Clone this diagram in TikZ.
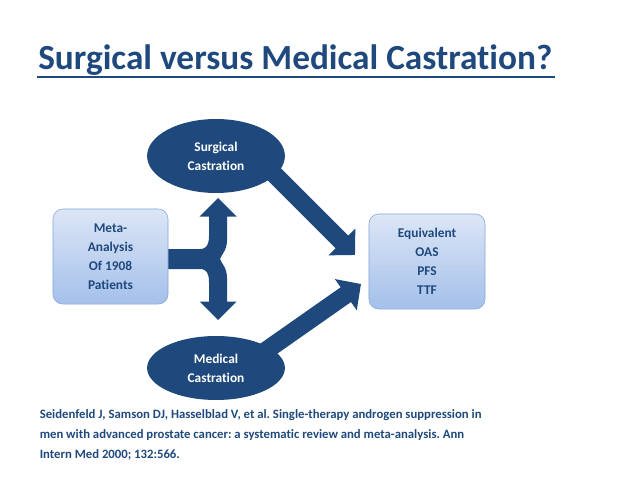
\documentclass[tikz,border=0pt]{standalone}
\usepackage{fontspec}
\setmainfont{Carlito}[Ligatures=NoCommon]
\usepackage{tikz}
\usetikzlibrary{positioning,arrows.meta,shapes,calc}
\frenchspacing
\definecolor{palNavy}{HTML}{1F497D}
\definecolor{palBoxTop}{HTML}{DCE6F6}
\definecolor{palBoxBot}{HTML}{A4C0EA}
\definecolor{palBoxEdge}{HTML}{86A6D8}
\tikzset{
  titletext/.style={font=\fontsize{25.1}{29}\selectfont\bfseries, text=palNavy,
                    inner sep=0pt},
  titleline/.style={draw=palNavy, line width=1.3pt},
  ovalnode/.style={ellipse, fill=palNavy, text=white, inner sep=0pt,
                   minimum width=98pt, align=center,
                   font=\fontsize{9.5}{13.6}\selectfont\bfseries},
  infobox/.style={draw=palBoxEdge, rounded corners=7pt, top color=palBoxTop,
                  bottom color=palBoxBot, text=palNavy, align=center,
                  minimum height=67.6pt, inner sep=0pt,
                  font=\fontsize{9.5}{13.5}\selectfont\bfseries},
  fatarrow/.style={draw=palNavy, line width=12.8pt,
                   -{Triangle[length=13.2pt, width=26.3pt]}},
  forkshape/.style={fill=palNavy},
  citetext/.style={font=\fontsize{9.05}{14}\selectfont\bfseries, text=palNavy,
                   align=left, inner sep=0pt},
}
\begin{document}
\begin{tikzpicture}[x=0.025cm, y=-0.025cm]
\useasboundingbox (0,0) rectangle (638,479);
%% Title
\node[titletext, anchor=base west] (title) at (38,70) {Surgical versus Medical Castration?};
\draw[titleline] ($(title.base west)+(-1,7)$) -- ($(title.base east)+(2,7)$);
%% Connectors
\coordinate (surOut) at (265,165);
\coordinate (eqInA) at (355,255);
\coordinate (medOut) at (258.6,355.8);
\coordinate (eqInB) at (361,284);
\draw[fatarrow] (surOut) -- (eqInA);
\draw[fatarrow] (medOut) -- (eqInB);
% split arrow out of the meta-analysis box
\fill[forkshape] (160,249) -- (200,249) .. controls (207,249) and (209,244) .. (209,236)
  -- (209,216.5) -- (199.5,216.5) -- (218,198) -- (236.5,216.5) -- (227,216.5)
  -- (227,240) .. controls (227,250) and (222,254) .. (220,259)
  .. controls (222,264) and (227,268) .. (227,278)
  -- (227,301.5) -- (236.5,301.5) -- (218,320) -- (199.5,301.5) -- (209,301.5)
  -- (209,282) .. controls (209,274) and (207,269) .. (200,269) -- (160,269) -- cycle;
%% Nodes
\node[ovalnode, minimum height=52.6pt] (sur) at (216,156) {Surgical\\Castration};
\node[ovalnode, minimum height=45.5pt] (med) at (216,368) {Medical\\Castration};
\node[infobox, minimum width=81.8pt] (meta) at (110.5,256.5) {Meta-\\Analysis\\Of 1908\\Patients};
\node[infobox, minimum width=82.5pt] (eq) at (427,261.5) {Equivalent\\OAS\\PFS\\TTF};
%% Reference (base = last line)
\node[citetext, anchor=base west] (cite) at (39.5,458.3) {Seidenfeld J, Samson DJ, Hasselblad V, et al. Single-therapy androgen suppression in\\
men with advanced prostate cancer: a systematic review and meta-analysis. Ann\\
Intern Med 2000; 132:566.};
\end{tikzpicture}
\end{document}
